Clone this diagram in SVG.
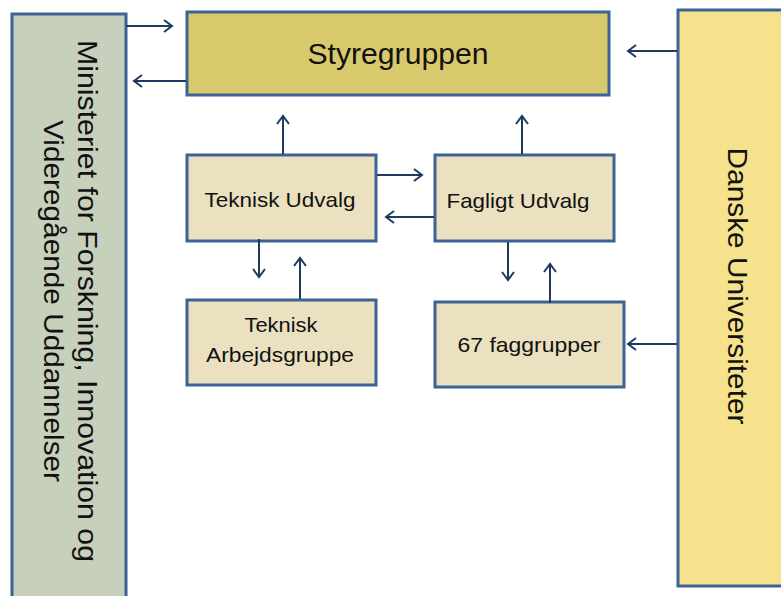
<svg xmlns="http://www.w3.org/2000/svg" width="781" height="596" viewBox="0 0 781 596">
<defs>
<marker id="ah" markerWidth="14" markerHeight="14" refX="11" refY="7" orient="auto" markerUnits="userSpaceOnUse">
<path d="M3,1 L11,7 L3,13" fill="none" stroke="#1f3a5f" stroke-width="2"/>
</marker>
</defs>
<style>
.box{stroke:#3d6396;stroke-width:3}
.t{font-family:"Liberation Sans",Arial,sans-serif;fill:#111;text-anchor:middle}
.c{stroke:#1f3a5f;stroke-width:2;fill:none;marker-end:url(#ah)}
</style>
<rect width="781" height="596" fill="#ffffff"/>
<g id="ministeriet">
<rect class="box" x="12" y="14" width="114" height="590" fill="#c6d0ba"/>
<text class="t" font-size="28" transform="translate(78,301) rotate(90)"><tspan x="0" y="0" textLength="522" lengthAdjust="spacingAndGlyphs">Ministeriet for Forskning, Innovation og</tspan><tspan x="0" y="34" textLength="362" lengthAdjust="spacingAndGlyphs">Videregående Uddannelser</tspan></text>
</g>
<g id="styregruppen">
<rect class="box" x="187" y="12" width="422" height="83" fill="#d8ca6c"/>
<text class="t" x="398" y="64" font-size="29" textLength="181" lengthAdjust="spacingAndGlyphs">Styregruppen</text>
</g>
<g id="danske">
<rect class="box" x="678" y="10" width="110" height="576" fill="#f6e18d"/>
<text class="t" font-size="28" transform="translate(728,286) rotate(90)" x="0" y="0" textLength="277" lengthAdjust="spacingAndGlyphs">Danske Universiteter</text>
</g>
<g id="teknisk-udvalg">
<rect class="box" x="187" y="155" width="189" height="86" fill="#ebe1c0"/>
<text class="t" x="280" y="207" font-size="21" textLength="151" lengthAdjust="spacingAndGlyphs">Teknisk  Udvalg</text>
</g>
<g id="fagligt-udvalg">
<rect class="box" x="435" y="155" width="179" height="86" fill="#ebe1c0"/>
<text class="t" x="518" y="208" font-size="21" textLength="143" lengthAdjust="spacingAndGlyphs">Fagligt Udvalg</text>
</g>
<g id="teknisk-arbejdsgruppe">
<rect class="box" x="187" y="300" width="189" height="85" fill="#ebe1c0"/>
<text class="t" x="281" y="332" font-size="21" textLength="73" lengthAdjust="spacingAndGlyphs">Teknisk</text>
<text class="t" x="280" y="362" font-size="21" textLength="148" lengthAdjust="spacingAndGlyphs">Arbejdsgruppe</text>
</g>
<g id="faggrupper">
<rect class="box" x="435" y="302" width="189" height="85" fill="#ebe1c0"/>
<text class="t" x="529" y="352" font-size="21" textLength="143" lengthAdjust="spacingAndGlyphs">67 faggrupper</text>
</g>
<g id="connectors">
<line class="c" x1="126" y1="26" x2="172" y2="26"/>
<line class="c" x1="186" y1="81" x2="134" y2="81"/>
<line class="c" x1="677" y1="51" x2="628" y2="51"/>
<line class="c" x1="283" y1="154" x2="283" y2="116"/>
<line class="c" x1="522" y1="154" x2="522" y2="116"/>
<line class="c" x1="377" y1="175" x2="422" y2="175"/>
<line class="c" x1="434" y1="217" x2="386" y2="217"/>
<line class="c" x1="259" y1="239" x2="259" y2="277"/>
<line class="c" x1="300" y1="299" x2="300" y2="258"/>
<line class="c" x1="508" y1="242" x2="508" y2="280"/>
<line class="c" x1="550" y1="303" x2="550" y2="264"/>
<line class="c" x1="677" y1="344" x2="628" y2="344"/>
</g>
</svg>
